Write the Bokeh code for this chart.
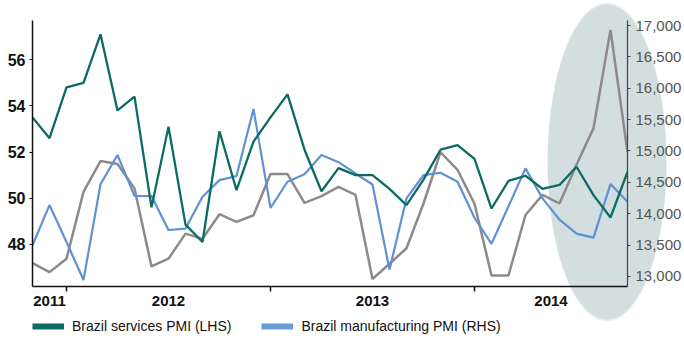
from bokeh.plotting import figure
from bokeh.layouts import column
from bokeh.models import (Range1d, LinearAxis, FixedTicker, NumeralTickFormatter,
                          Legend, LegendItem)
from bokeh.embed import file_html
from bokeh.resources import INLINE

# Monthly data, Nov 2011 .. Oct 2014 (index 0..35)
months = list(range(36))
services_pmi = [53.5, 52.6, 54.8, 55.0, 57.1, 53.8, 54.4, 49.6, 53.1, 48.85,
                48.1, 52.9, 50.35, 52.45, 53.5, 54.5, 52.1, 50.3, 51.3, 51.0,
                51.0, 50.4, 49.7, 50.8, 52.1, 52.3, 51.7, 49.55, 50.75, 50.97,
                50.4, 50.57, 51.36, 50.13, 49.16, 51.14]
manufacturing_pmi = [47.96, 49.7, 48.1, 46.45, 50.6, 51.87, 50.1, 50.09, 48.62, 48.68,
                     50.06, 50.78, 50.96, 53.86, 49.58, 50.71, 51.04, 51.87, 51.56, 51.07,
                     50.59, 46.9, 49.99, 51.0, 51.1, 50.71, 49.15, 48.02, 49.65, 51.29,
                     49.99, 49.07, 48.46, 48.29, 50.61, 49.84]
rhs_series = [13213, 13069, 13283, 14349, 14840, 14792, 14403, 13160, 13283, 13683,
              13600, 13992, 13869, 13976, 14632, 14632, 14173, 14280, 14429, 14300,
              12960, 13203, 13450, 14163, 14980, 14700, 14160, 13016, 13016, 13980,
              14300, 14163, 14780, 15363, 16930, 14980]

year_positions = [1, 8, 20, 30.5]
year_labels = ["2011", "2012", "2013", "2014"]
year_boundaries = [2, 14, 26]
lhs_ticks = [48, 50, 52, 54, 56]
rhs_ticks = [13000, 13500, 14000, 14500, 15000, 15500, 16000, 16500, 17000]
legend_labels = ["Brazil services PMI (LHS)", "Brazil manufacturing PMI (RHS)"]

TEAL = "#0b6b62"
BLUE = "#5f91d6"
GREY = "#8e8a8a"

p = figure(width=684, height=308, output_backend="svg", toolbar_location=None,
           x_range=Range1d(0, 35), y_range=Range1d(46.17, 57.70),
           min_border_left=32, min_border_right=57, min_border_top=20,
           min_border_bottom=22)
p.background_fill_color = None
p.border_fill_color = None
p.outline_line_color = None
p.grid.visible = False

p.extra_y_ranges = {"rhs": Range1d(12840, 17080)}

p.line(months, rhs_series, y_range_name="rhs", color=GREY, line_width=2.5)
p.line(months, manufacturing_pmi, color=BLUE, line_width=2.2)
p.line(months, services_pmi, color=TEAL, line_width=2.3)

# left axis
ya = p.yaxis[0]
ya.ticker = FixedTicker(ticks=lhs_ticks)
ya.major_label_text_font = "Liberation Sans"
ya.major_label_text_font_style = "bold"
ya.major_label_text_font_size = "16px"
ya.major_label_text_color = "#111111"
ya.axis_line_color = "#111111"
ya.axis_line_width = 1.5
ya.major_tick_out = 3
ya.major_tick_in = 0
ya.minor_tick_line_color = None
ya.major_label_standoff = 4

# right axis
ra = LinearAxis(y_range_name="rhs", ticker=FixedTicker(ticks=rhs_ticks),
                formatter=NumeralTickFormatter(format="0,0"))
ra.major_label_text_font = "Liberation Sans"
ra.major_label_text_font_size = "15px"
ra.major_label_text_color = "#555555"
ra.axis_line_color = "#444444"
ra.axis_line_width = 1.2
ra.major_tick_out = 3
ra.major_tick_in = 0
ra.major_tick_line_color = "#444444"
ra.minor_tick_line_color = None
ra.major_label_standoff = 5
p.add_layout(ra, "right")

# bottom axis
xa = p.xaxis[0]
xa.ticker = FixedTicker(ticks=year_positions, minor_ticks=year_boundaries)
xa.major_label_overrides = {k: v for k, v in zip(year_positions, year_labels)}
xa.major_tick_line_color = None
xa.major_tick_out = 0
xa.major_tick_in = 0
xa.minor_tick_out = 5
xa.minor_tick_in = 0
xa.minor_tick_line_color = "#111111"
xa.minor_tick_line_width = 1.5
xa.axis_line_color = "#111111"
xa.axis_line_width = 1.5
xa.major_label_text_font = "Liberation Sans"
xa.major_label_text_font_style = "bold"
xa.major_label_text_font_size = "15px"
xa.major_label_text_color = "#111111"
xa.major_label_standoff = 4

# legend strip below the chart (series drawn out of view; only swatches show)
lg = figure(width=684, height=32, output_backend="svg", toolbar_location=None,
            x_axis_type=None, y_axis_type=None, min_border=0,
            x_range=Range1d(0, 1), y_range=Range1d(0, 1))
lg.background_fill_color = None
lg.border_fill_color = None
lg.outline_line_color = None
lg.grid.visible = False
sw_teal = lg.line(months, services_pmi, color=TEAL, line_width=6)
sw_blue = lg.line(months, manufacturing_pmi, color="#6a9bd8", line_width=6)
legend = Legend(items=[LegendItem(label=legend_labels[0], renderers=[sw_teal]),
                       LegendItem(label=legend_labels[1], renderers=[sw_blue])],
                orientation="horizontal", location=(0, 6))
legend.label_text_font = "Liberation Sans"
legend.label_text_font_size = "14px"
legend.label_text_color = "#111111"
legend.glyph_width = 32
legend.glyph_height = 16
legend.label_standoff = 8
legend.spacing = 30
legend.padding = 0
legend.margin = 0
legend.border_line_color = None
legend.background_fill_alpha = 0
lg.add_layout(legend)

layout = column(p, lg, spacing=0,
                styles={"background": "radial-gradient(ellipse 60px 160px at 607px 162px, "
                                      "#d3dede 98%, rgba(211,222,222,0) 100%)"})

open("out.html", "w").write(file_html(layout, INLINE))
